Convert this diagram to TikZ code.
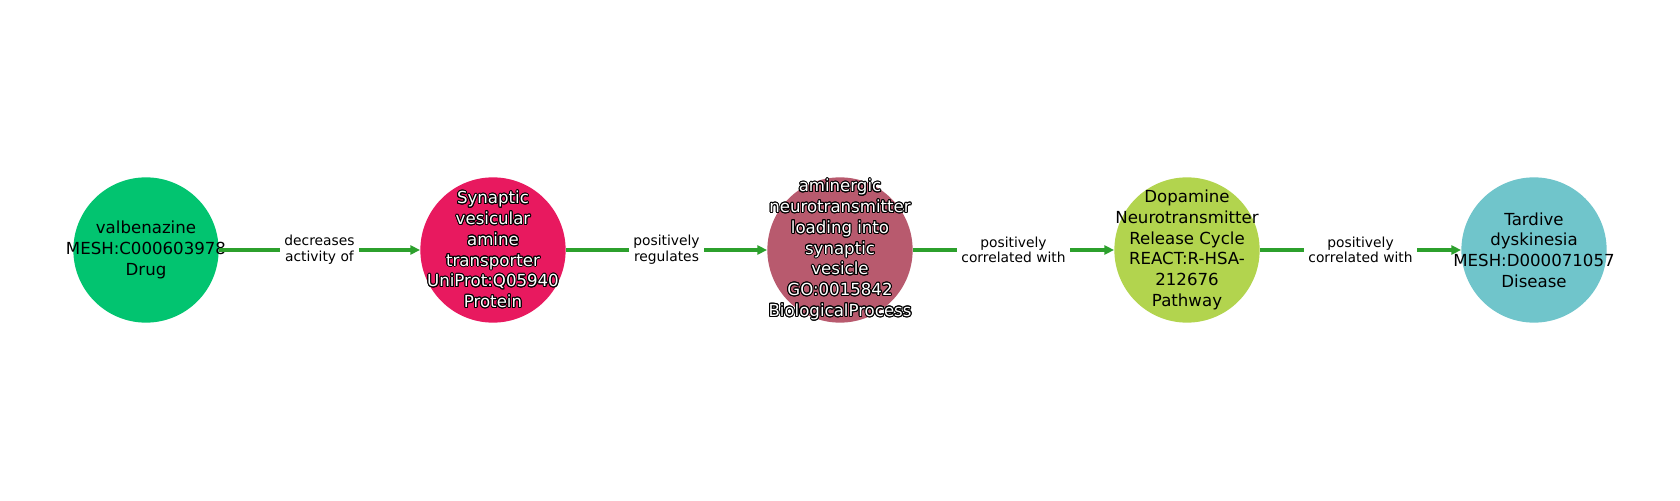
\documentclass[tikz,border=0pt]{standalone}
\usepackage{fontspec}
\setmainfont{DejaVu Sans}
\usepackage{contour}
\contourlength{0.7pt}
\usetikzlibrary{arrows.meta, positioning}
\usepackage{xcolor}
\definecolor{drugcol}{RGB}{2,196,112}
\definecolor{proteincol}{RGB}{232,25,95}
\definecolor{processcol}{RGB}{184,90,110}
\definecolor{pathwaycol}{RGB}{178,212,78}
\definecolor{diseasecol}{RGB}{112,197,203}
\definecolor{edgegreen}{RGB}{44,160,44}
\newcommand{\outl}[1]{\contour{black}{#1}}
\tikzset{
  entity/.style={circle, minimum size=105pt, inner sep=0pt},
  entitytext/.style={align=center, inner sep=0pt,
    font=\fontsize{12pt}{15pt}\selectfont, text=black},
  relation/.style={draw=edgegreen, line width=2.2pt,
    -{Triangle[length=7pt, width=6.5pt]}},
  rellabel/.style={fill=white, inner xsep=3pt, inner ysep=1pt, align=center,
    font=\fontsize{10pt}{11.3pt}\selectfont, text=black}
}

\begin{document}
\begin{tikzpicture}
  \useasboundingbox (0,0) rectangle (42.672,12.7);
  \node[entity, fill=drugcol, label={[entitytext]center:{valbenazine\\MESH:C000603978\\Drug}}]
    (drug) at (3.708,6.35) {};
  \node[entity, fill=proteincol, label={[entitytext, text=white]center:{\outl{Synaptic}\\\outl{vesicular}\\\outl{amine}\\\outl{transporter}\\\outl{UniProt:Q05940}\\\outl{Protein}}}]
    (protein) at (12.522,6.35) {};
  \node[entity, fill=processcol, label={[entitytext, text=white]center:{\outl{aminergic}\\\outl{neurotransmitter}\\\outl{loading into}\\\outl{synaptic}\\\outl{vesicle}\\\outl{GO:0015842}\\\outl{BiologicalProcess}}}]
    (process) at (21.336,6.35) {};
  \node[entity, fill=pathwaycol, label={[entitytext]center:{Dopamine\\Neurotransmitter\\Release Cycle\\REACT:R-HSA-\\212676\\Pathway}}]
    (pathway) at (30.150,6.35) {};
  \node[entity, fill=diseasecol, label={[entitytext]center:{Tardive\\dyskinesia\\MESH:D000071057\\Disease}}]
    (disease) at (38.964,6.35) {};
  \foreach \src/\dst/\lab in {drug/protein/{decreases\\activity of},
      protein/process/{positively\\regulates},
      process/pathway/{positively\\correlated with},
      pathway/disease/{positively\\correlated with}} {
    \draw[relation] (\src) -- node[rellabel] {\lab} (\dst);
  }
\end{tikzpicture}
\end{document}
